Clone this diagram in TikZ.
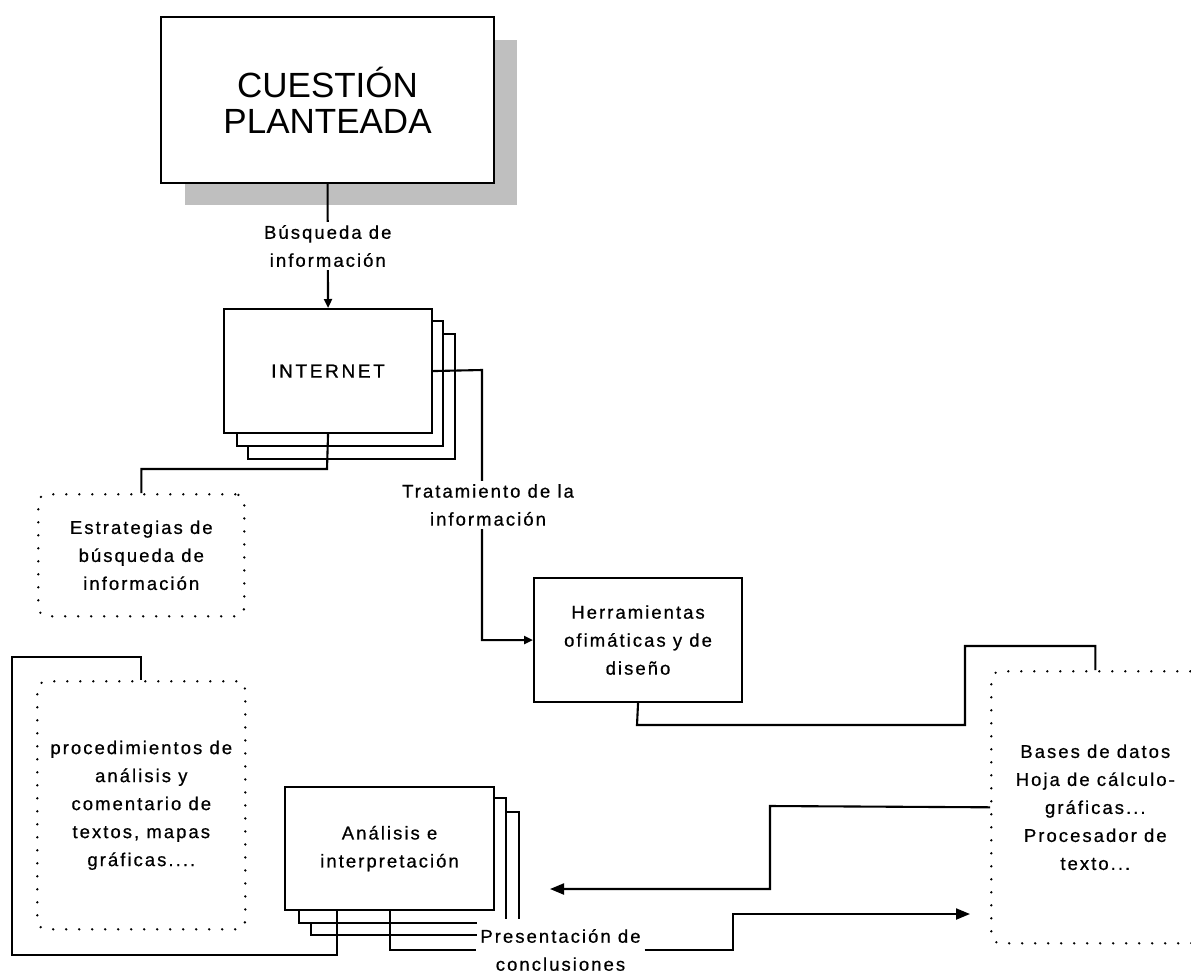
\documentclass[tikz,border=0pt]{standalone}
\usepackage{fontspec}
\setmainfont{Liberation Sans}
\newfontfamily\lbfont[LetterSpace=11,FakeBold=0.6]{Liberation Sans}
\newfontfamily\inetfont[LetterSpace=14,FakeBold=0.8]{Liberation Sans}
\usetikzlibrary{arrows.meta}
\begin{document}
\begin{tikzpicture}[x=1pt,y=-1pt,
  line width=2.1pt,
  txt/.style={font=\lbfont\fontsize{18.5}{28}\selectfont, align=center, inner sep=0pt},
  box/.style={draw, fill=white, inner sep=0pt, anchor=north west},
  dotbox/.style={draw, line width=2.6pt, dash pattern=on 0pt off 13pt, line cap=round, rounded corners=9pt, anchor=north west, inner sep=0pt},
  lbl/.style={txt, fill=white, inner xsep=3pt, inner ysep=3pt},
  tip/.style={-{Triangle[length=9pt,width=8pt]}},
  bigtip/.style={-{Triangle[length=14pt,width=11pt]}},
]
\useasboundingbox (0,0) rectangle (1191,970);

% Cuestion planteada with shadow
\fill[gray!50] (185,40) rectangle (517,205);
\node[box, minimum width=333pt, minimum height=166pt] (cq) at (160,16) {};
\node[font=\fontsize{35}{36}\selectfont, align=center] (cqt) at (cq.center) {CUESTIÓN\\PLANTEADA};

% Internet stack
\node[box, minimum width=207pt, minimum height=125pt] (inet3) at (247,333) {};
\node[box, minimum width=206pt, minimum height=125pt] (inet2) at (236,320) {};
\node[box, minimum width=208pt, minimum height=124pt] (inet) at (223,308) {};
\node[font=\inetfont\fontsize{19}{28}\selectfont] (inett) at (inet.center) {INTERNET};

% Herramientas
\node[box, minimum width=208pt, minimum height=124pt] (herr) at (533,577) {};
\node[txt] (herrt) at (herr.center) {Herramientas\\ofimáticas y de\\diseño};

% Analisis stack
\node[box, minimum width=208pt, minimum height=123pt] (ana3) at (310,811) {};
\node[box, minimum width=207pt, minimum height=125pt] (ana2) at (298,797) {};
\node[box, minimum width=209pt, minimum height=123pt] (ana) at (284,786) {};
\node[txt] (anat) at (ana.center) {Análisis e\\interpretación};

% Dotted boxes
\node[dotbox, minimum width=206pt, minimum height=122pt] (estr) at (37,493) {};
\node[txt] (estrt) at (estr.center) {Estrategias de\\búsqueda de\\información};
\node[dotbox, minimum width=208pt, minimum height=248pt] (proc) at (36,680) {};
\node[txt] (proct) at (proc.center) {procedimientos de\\análisis y\\comentario de\\textos, mapas\\gráficas....};
\node[dotbox, minimum width=208pt, minimum height=272pt] (bases) at (990,670) {};
\node[txt] (basest) at (bases.center) {Bases de datos\\Hoja de cálculo-\\gráficas...\\Procesador de\\texto...};

% Connectors
\draw[tip] (cq.south) -- (inet.north) node[lbl, midway] (busq) {Búsqueda de\\información};
\draw[tip] (inet.east) -- (482,370) |- (herr.west);
\node[lbl] (trat) at (488,505) {Tratamiento de la\\información};
\draw (inet.south) -- (327,469) -| (estr.north);
\draw (herr.south) -- (637,725) -| (965,646) -| (bases.north);
\coordinate (arrL) at (550,889);
\draw[bigtip] (bases.west) -- (770,806) |- (arrL);
\draw (ana.south -| 337,0) -- (337,955) -- (12,955) -- (12,657) -| (proc.north);
\node[lbl, minimum height=62pt, inner xsep=3pt] (pres) at (560.5,950) {Presentación de\\conclusiones};
\draw (ana.south) |- (pres.west);
\coordinate (arrR) at (970,914);
\draw[bigtip] (pres.east) -- (733,950) |- (arrR);
\end{tikzpicture}
\end{document}
